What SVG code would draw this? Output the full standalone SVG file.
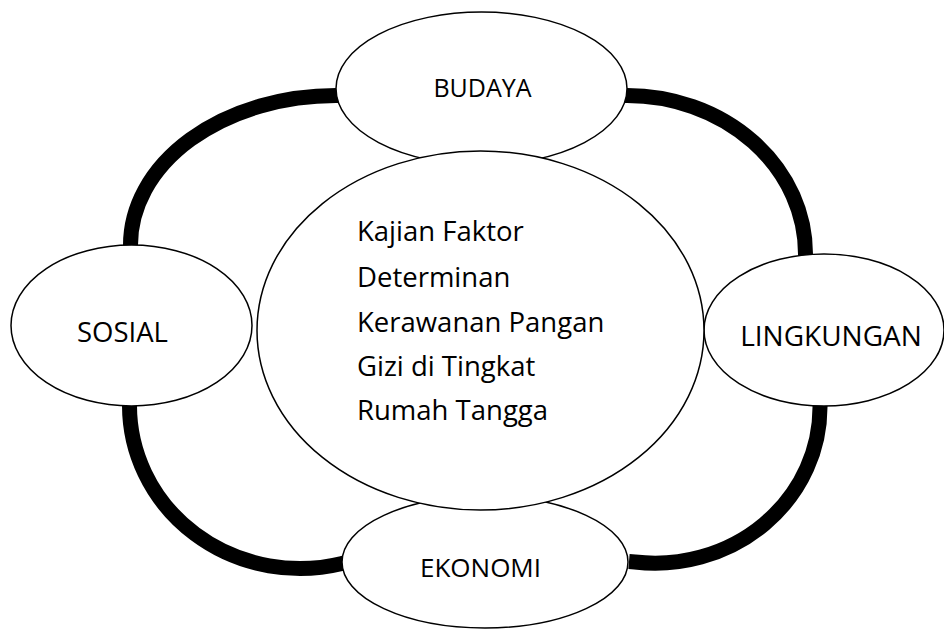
<svg xmlns="http://www.w3.org/2000/svg" width="944" height="639" viewBox="0 0 944 639">
<style>
.bg{fill:#fff}
.node{fill:#fff;stroke:#000;stroke-width:1.5}
.arc{fill:none;stroke:#000;stroke-width:15;stroke-linecap:butt}
.lbl{font-family:"Open Sans","Liberation Sans",sans-serif;fill:#000;text-anchor:middle}
.ctr{font-family:"Open Sans","Liberation Sans",sans-serif;font-size:27.5px;fill:#000}
</style>
<rect class="bg" x="0" y="0" width="944" height="639"/>
<g id="connectors">
<path class="arc" d="M130.5,250 L130.5,245 A205.5,149.5 0 0 1 336,95.5 L342,95.5"/>
<path class="arc" d="M621,95.5 L627,95.5 A178.5,158.5 0 0 1 805.5,254 L805.5,260"/>
<path class="arc" d="M129.5,399 L129.5,405 A170.5,163 0 0 0 342,563.5 L348,563"/>
<path class="arc" d="M820,401 L820,407 A165,156 0 0 1 635,562 L629,561.5"/>
</g>
<g id="budaya">
<ellipse class="node" cx="481.5" cy="88.5" rx="145.5" ry="76.5"/>
<text class="lbl" x="482.5" y="97" font-size="25">BUDAYA</text>
</g>
<g id="sosial">
<ellipse class="node" cx="131.5" cy="325.5" rx="120.5" ry="80.5"/>
<text class="lbl" x="122.5" y="342" font-size="27.5">SOSIAL</text>
</g>
<g id="lingkungan">
<ellipse class="node" cx="824" cy="330" rx="120" ry="76"/>
<text class="lbl" x="831" y="346" font-size="28">LINGKUNGAN</text>
</g>
<g id="ekonomi">
<ellipse class="node" cx="485" cy="562" rx="143" ry="66"/>
<text class="lbl" x="480.5" y="577" font-size="26">EKONOMI</text>
</g>
<g id="center">
<ellipse class="node" cx="480.5" cy="330.5" rx="223.5" ry="179.5"/>
<text class="ctr" x="357" y="241">Kajian Faktor</text>
<text class="ctr" x="357" y="287">Determinan</text>
<text class="ctr" x="357" y="332">Kerawanan Pangan</text>
<text class="ctr" x="357" y="376">Gizi di Tingkat</text>
<text class="ctr" x="357" y="420">Rumah Tangga</text>
</g>
</svg>
